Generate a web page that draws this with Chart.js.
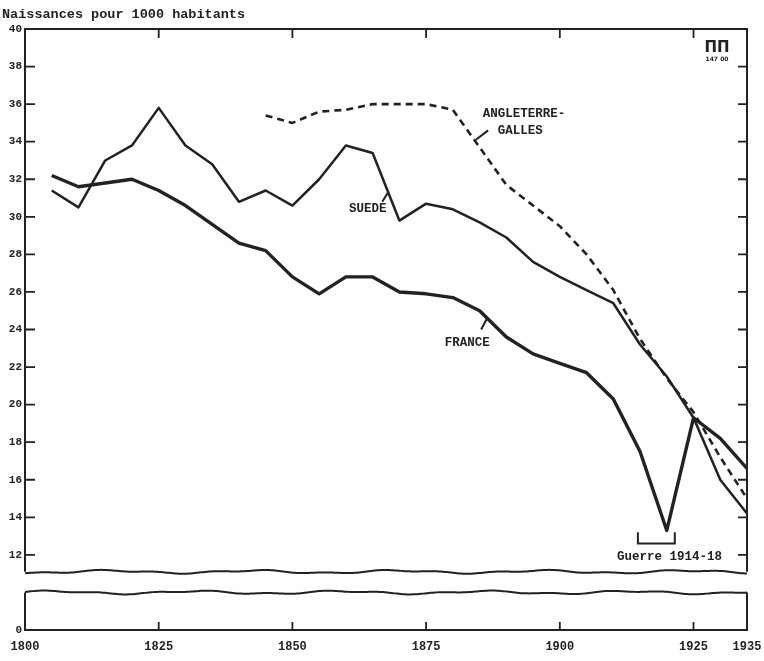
<!DOCTYPE html>
<html>
<head>
<meta charset="utf-8">
<script src="https://cdn.jsdelivr.net/npm/chart.js"></script>
<style>
  html, body { margin: 0; padding: 0; background: #fff; }
  #wrap { width: 764px; height: 661px; position: relative; }
</style>
</head>
<body>
<div id="wrap"><canvas id="natalite"></canvas></div>
<script>
// Naissances pour 1000 habitants, par période de 5 ans
const years = [1805, 1810, 1815, 1820, 1825, 1830, 1835, 1840, 1845, 1850, 1855, 1860, 1865,
  1870, 1875, 1880, 1885, 1890, 1895, 1900, 1905, 1910, 1915, 1920, 1925, 1930, 1935];

const france = [32.2, 31.6, 31.8, 32.0, 31.4, 30.6, 29.6, 28.6, 28.2, 26.8, 25.9, 26.8, 26.8,
  26.0, 25.9, 25.7, 25.0, 23.6, 22.7, 22.2, 21.7, 20.3, 17.5, 13.3, 19.3, 18.2, 16.6];

const suede = [31.4, 30.5, 33.0, 33.8, 35.8, 33.8, 32.8, 30.8, 31.4, 30.6, 32.0, 33.8, 33.4,
  29.8, 30.7, 30.4, 29.7, 28.9, 27.6, 26.8, 26.1, 25.4, 23.2, 21.5, 19.3, 16.0, 14.2];

const angleterre = [null, null, null, null, null, null, null, null, 35.4, 35.0, 35.6, 35.7, 36.0,
  36.0, 36.0, 35.7, 33.7, 31.7, 30.6, 29.5, 28.0, 26.1, 23.5, 21.4, 19.6, 17.2, 15.0];

const xTicks = [1800, 1825, 1850, 1875, 1900, 1925, 1935];
const yTicks = [8, 12, 14, 16, 18, 20, 22, 24, 26, 28, 30, 32, 34, 36, 38, 40];
const yTickText = { 8: '0' };   // l'échelle est coupée : le bas du cadre vaut 0
const breakTop = 11.1, breakBottom = 10.0;

// étiquettes placées en coordonnées des données
const labels = [
  { text: 'ANGLETERRE-', x: 1885.6, y: 35.5 },
  { text: 'GALLES', x: 1888.4, y: 34.6 },
  { text: 'SUEDE', x: 1860.6, y: 30.4 },
  { text: 'FRANCE', x: 1878.5, y: 23.3 },
  { text: 'Guerre 1914-18', x: 1910.7, y: 11.9 }
];
const leaders = [
  [1884.3, 34.1, 1886.6, 34.6],
  [1866.8, 30.8, 1867.9, 31.3],
  [1885.3, 24.0, 1886.4, 24.6]
];
const bracket = { x0: 1914.6, x1: 1921.5, top: 13.2, bottom: 12.6 };

const ink = '#222';
const pts = arr => years.map((y, i) => ({ x: y, y: arr[i] }));

function wavy(ctx, x0, x1, y, phase) {
  ctx.beginPath();
  for (let x = x0; x <= x1; x += 2) {
    const dy = 1.3 * Math.sin((x + phase) / 23) + 0.7 * Math.sin((x + phase * 2) / 9);
    if (x === x0) ctx.moveTo(x, y + dy); else ctx.lineTo(x, y + dy);
  }
  ctx.stroke();
}

const frame = {
  id: 'frame',
  afterDatasetsDraw(chart) {
    const { ctx, chartArea: a, scales: { x, y } } = chart;
    const yb = y.getPixelForValue(breakTop);
    const yl = y.getPixelForValue(breakBottom);
    ctx.save();
    // coupure de l'axe
    ctx.fillStyle = '#fff';
    ctx.fillRect(a.left - 1, yb, a.right - a.left + 2, yl - yb);
    ctx.strokeStyle = ink;
    ctx.lineWidth = 2;
    ctx.beginPath();
    ctx.moveTo(a.left, yb); ctx.lineTo(a.left, a.top); ctx.lineTo(a.right, a.top); ctx.lineTo(a.right, yb);
    ctx.moveTo(a.left, yl); ctx.lineTo(a.left, a.bottom); ctx.lineTo(a.right, a.bottom); ctx.lineTo(a.right, yl);
    ctx.stroke();
    wavy(ctx, a.left, a.right, yb, 0);
    wavy(ctx, a.left, a.right, yl, 57);

    // graduations vers l'intérieur
    ctx.lineWidth = 1.8;
    ctx.beginPath();
    yTicks.forEach(v => {
      if (v <= breakTop || v >= 40) return;
      const py = y.getPixelForValue(v);
      ctx.moveTo(a.left, py); ctx.lineTo(a.left + 10, py);
      ctx.moveTo(a.right, py); ctx.lineTo(a.right - 9, py);
    });
    xTicks.forEach(v => {
      if (v === 1800 || v === 1935) return;
      const px = x.getPixelForValue(v);
      ctx.moveTo(px, a.top); ctx.lineTo(px, a.top + 9);
      ctx.moveTo(px, a.bottom); ctx.lineTo(px, a.bottom - 8);
    });
    ctx.stroke();

    // étiquettes des courbes
    ctx.fillStyle = ink;
    ctx.font = 'bold 12.5px "Liberation Mono", monospace';
    ctx.textBaseline = 'middle';
    ctx.textAlign = 'left';
    labels.forEach(l => ctx.fillText(l.text, x.getPixelForValue(l.x), y.getPixelForValue(l.y)));
    ctx.lineWidth = 2;
    ctx.beginPath();
    leaders.forEach(([x0, y0, x1, y1]) => {
      ctx.moveTo(x.getPixelForValue(x0), y.getPixelForValue(y0));
      ctx.lineTo(x.getPixelForValue(x1), y.getPixelForValue(y1));
    });
    const bx0 = x.getPixelForValue(bracket.x0), bx1 = x.getPixelForValue(bracket.x1);
    const bt = y.getPixelForValue(bracket.top), bb = y.getPixelForValue(bracket.bottom);
    ctx.moveTo(bx0, bt); ctx.lineTo(bx0, bb); ctx.lineTo(bx1, bb); ctx.lineTo(bx1, bt);
    ctx.stroke();

    // titre et repère
    ctx.font = 'bold 13.5px "Liberation Mono", monospace';
    ctx.textBaseline = 'alphabetic';
    ctx.fillText('Naissances pour 1000 habitants', 2, 18);
    ctx.textAlign = 'center';
    ctx.font = 'bold 15px "DejaVu Sans", sans-serif';
    ctx.fillText('ΠΠ', 717, 52);
    ctx.font = 'bold 6px "DejaVu Sans", sans-serif';
    ctx.fillText('147 00', 717, 61);
    ctx.restore();
  }
};

new Chart(document.getElementById('natalite'), {
  type: 'line',
  data: {
    datasets: [
      { label: 'France', data: pts(france), borderColor: ink, borderWidth: 3.4 },
      { label: 'Suède', data: pts(suede), borderColor: ink, borderWidth: 2.5 },
      { label: 'Angleterre-Galles', data: pts(angleterre), borderColor: ink, borderWidth: 2.6,
        borderDash: [7, 5], spanGaps: false }
    ]
  },
  options: {
    responsive: true,
    maintainAspectRatio: false,
    animation: false,
    elements: { point: { radius: 0 }, line: { tension: 0, borderJoinStyle: 'round' } },
    layout: { padding: { top: 29, right: 17, left: 0, bottom: 0 } },
    plugins: { legend: { display: false }, tooltip: { enabled: false } },
    scales: {
      x: {
        type: 'linear', min: 1800, max: 1935,
        grid: { display: false, drawTicks: false }, border: { display: false },
        afterBuildTicks: s => { s.ticks = xTicks.map(v => ({ value: v })); },
        afterFit: s => { s.height = 31; s.paddingLeft = 0; s.paddingRight = 0; },
        ticks: { color: ink, padding: 10, maxRotation: 0, autoSkip: false,
          font: { family: 'Liberation Mono', size: 12, weight: 'bold' },
          callback: v => String(v) }
      },
      y: {
        min: 8, max: 40,
        grid: { display: false, drawTicks: false }, border: { display: false },
        afterBuildTicks: s => { s.ticks = yTicks.map(v => ({ value: v })); },
        afterFit: s => { s.width = 25; s.paddingTop = 0; s.paddingBottom = 0; },
        ticks: { color: ink, padding: 3, autoSkip: false,
          font: { family: 'Liberation Mono', size: 11, weight: 'bold' },
          callback: v => yTickText[v] || String(v) }
      }
    }
  },
  plugins: [frame]
});
</script>
</body>
</html>
